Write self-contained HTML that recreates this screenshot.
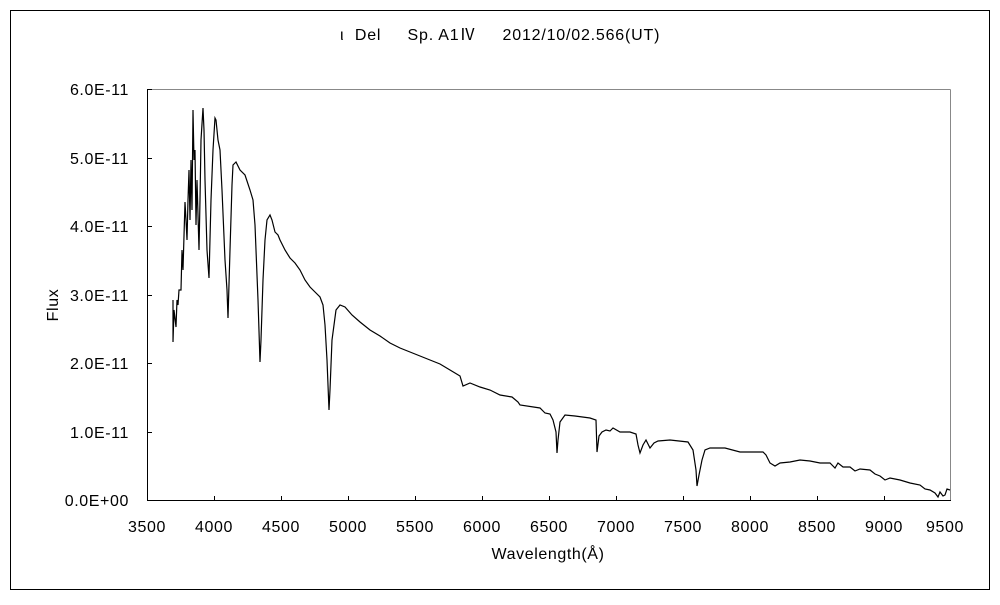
<!DOCTYPE html>
<html><head><meta charset="utf-8"><style>
html,body{margin:0;padding:0;background:#fff;}
svg text{font-family:"Liberation Sans","Noto Sans CJK JP",sans-serif;font-size:16px;fill:#000;white-space:pre;letter-spacing:0.6px;}
</style></head><body>
<svg width="1000" height="600" xmlns="http://www.w3.org/2000/svg">
<rect x="10.5" y="10.5" width="979" height="579" fill="none" stroke="#000" stroke-width="1"/>
<text x="340" y="40" xml:space="preserve" textLength="320" lengthAdjust="spacing">ι  Del     Sp. A1Ⅳ     2012/10/02.566(UT)</text>
<line x1="147.5" y1="89.5" x2="950.5" y2="89.5" stroke="#888"/>
<line x1="950.5" y1="89.5" x2="950.5" y2="501" stroke="#888"/>
<line x1="147.5" y1="89" x2="147.5" y2="501" stroke="#000"/>
<line x1="147" y1="500.5" x2="951" y2="500.5" stroke="#000"/>
<g stroke="#000">
<line x1="147" y1="89.5" x2="152" y2="89.5"/>
<line x1="147" y1="158.5" x2="152" y2="158.5"/>
<line x1="147" y1="226.5" x2="152" y2="226.5"/>
<line x1="147" y1="295.5" x2="152" y2="295.5"/>
<line x1="147" y1="363.5" x2="152" y2="363.5"/>
<line x1="147" y1="432.5" x2="152" y2="432.5"/>
<line x1="214.5" y1="496" x2="214.5" y2="500"/>
<line x1="281.5" y1="496" x2="281.5" y2="500"/>
<line x1="348.5" y1="496" x2="348.5" y2="500"/>
<line x1="415.5" y1="496" x2="415.5" y2="500"/>
<line x1="482.5" y1="496" x2="482.5" y2="500"/>
<line x1="549.5" y1="496" x2="549.5" y2="500"/>
<line x1="616.5" y1="496" x2="616.5" y2="500"/>
<line x1="683.5" y1="496" x2="683.5" y2="500"/>
<line x1="750.5" y1="496" x2="750.5" y2="500"/>
<line x1="817.5" y1="496" x2="817.5" y2="500"/>
<line x1="884.5" y1="496" x2="884.5" y2="500"/>
</g>
<g text-anchor="end">
<text x="129" y="95">6.0E-11</text>
<text x="129" y="164">5.0E-11</text>
<text x="129" y="232">4.0E-11</text>
<text x="129" y="301">3.0E-11</text>
<text x="129" y="369">2.0E-11</text>
<text x="129" y="438">1.0E-11</text>
<text x="129" y="506">0.0E+00</text>
</g>
<g text-anchor="middle">
<text x="147" y="532">3500</text><text x="214" y="532">4000</text><text x="281" y="532">4500</text>
<text x="348" y="532">5000</text><text x="415" y="532">5500</text><text x="482" y="532">6000</text>
<text x="549" y="532">6500</text><text x="616" y="532">7000</text><text x="683" y="532">7500</text>
<text x="750" y="532">8000</text><text x="817" y="532">8500</text><text x="884" y="532">9000</text>
<text x="945" y="532">9500</text>
<text x="548" y="559">Wavelength(Å)</text>
</g>
<text x="58" y="305" text-anchor="middle" transform="rotate(-90 58 305)">Flux</text>
<polyline fill="none" stroke="#000" stroke-width="1.2" points="
173,300 173,342 174,310 176,327 177,300 178,305 179,290 181,290 182,250 183,270 185,202 186,220 187,240 188,200 189,170 190,220 191,160 192,210 193,110 194,160 195,150 196,225 197,180 199,250 200,200 201,140 203,108 204,130 205,180 207,250 209,278 211,200 213,150 215,118 216,120 218,140 220,150 222,190 225,260 227,290 228,318 230,250 232,185 233,165 236,162 240,170 245,175 250,190 253,200 255,225 258,300 260,362 261,340 263,280 265,240 267,220 270,215 272,220 275,232 278,235 280,240 285,250 290,258 295,263 300,270 305,280 310,287 315,292 320,297 323,305 325,325 327,360 329,410 330,390 332,340 336,310 340,305 345,307 352,315 360,322 370,330 380,336 390,343 400,348 410,352 420,356 430,360 440,364 450,370 460,376 463,386 470,383 480,387 490,390 500,395 512,397 518,402 520,405 540,408 545,413 550,414 553,420 556,432 557,453 558,440 560,422 565,415 575,416 590,418 596,420 597,452 599,436 602,432 606,430 610,431 613,428 620,432 630,432 636,434 638,445 640,453 643,445 646,440 650,448 654,443 658,441 670,440 688,442 693,450 696,470 697,486 699,475 702,460 705,450 710,448 725,448 740,452 763,452 766,455 770,463 775,466 780,463 790,462 800,460 810,461 820,463 830,463 835,468 838,463 843,467 850,467 855,471 860,469 870,470 875,474 880,476 885,480 890,478 900,480 910,483 920,485 925,489 930,490 935,493 938,497 940,492 943,496 945,495 947,489 950,490"/>
</svg>
</body></html>
